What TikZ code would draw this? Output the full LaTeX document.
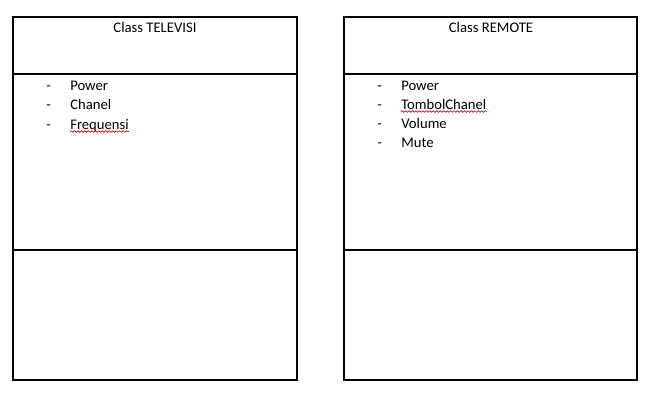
\documentclass[tikz,border=0pt]{standalone}
\usepackage{fontspec}
\setmainfont{Carlito}
\usetikzlibrary{decorations.pathmorphing,calc}
\begin{document}
\begin{tikzpicture}[x=0.75pt,y=-0.75pt,
  frame/.style={line width=0.9pt,black},
  txt/.style={inner sep=0pt,font=\fontsize{11}{13}\selectfont},
  item/.style={txt,anchor=base west},
  dashmark/.style={txt,anchor=base west},
  squig/.style={red!85!black,line width=0.5pt,decorate,decoration={snake,amplitude=0.6pt,segment length=2.6pt}}]
\useasboundingbox (0,0) rectangle (656,404);
% left class
\draw[frame] (13,17) rectangle (297,380);
\draw[frame] (13,74) -- (297,74);
\draw[frame] (13,250) -- (297,250);
\node[txt,anchor=base] (tvtitle) at (155,32) {Class TELEVISI};
\node[dashmark] (td1) at (46,90) {-};
\node[dashmark] (td2) at (46,109.5) {-};
\node[dashmark] (td3) at (46,129) {-};
\node[item] (t1) at (70,90) {Power};
\node[item] (t2) at (70,109.5) {Chanel};
\node[item] (t3) at (70,129) {Frequensi};
\draw[squig] ($(t3.base west)+(0,2.5)$) -- ($(t3.base east)+(0,2.5)$);
% right class
\draw[frame] (344,17) rectangle (637,380);
\draw[frame] (344,74) -- (637,74);
\draw[frame] (344,250) -- (637,250);
\node[txt,anchor=base] (rtitle) at (491,32) {Class REMOTE};
\node[dashmark] (rd1) at (377,90) {-};
\node[dashmark] (rd2) at (377,109) {-};
\node[dashmark] (rd3) at (377,128) {-};
\node[dashmark] (rd4) at (377,147) {-};
\node[item] (r1) at (401,90) {Power};
\node[item] (r2) at (401,109) {TombolChanel};
\node[item] (r3) at (401,128) {Volume};
\node[item] (r4) at (401,147) {Mute};
\draw[squig] ($(r2.base west)+(0,2.5)$) -- ($(r2.base east)+(0,2.5)$);
\end{tikzpicture}
\end{document}
